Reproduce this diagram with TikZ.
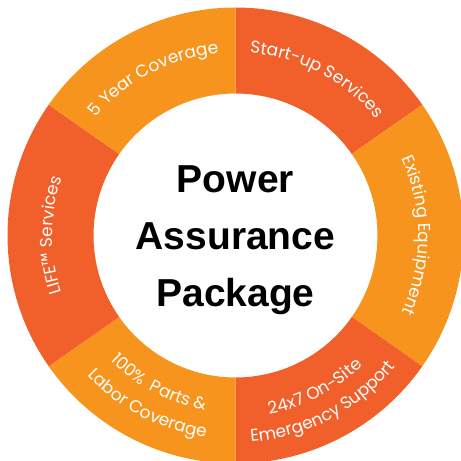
\documentclass[tikz,border=0pt]{standalone}
\usepackage{fontspec}
\setmainfont{Poppins}
\newfontfamily\ringfont{Poppins}
\newfontfamily\titlefont{Liberation Sans}
\usetikzlibrary{decorations.text}
\definecolor{darkorange}{RGB}{241,95,42}
\definecolor{lightorange}{RGB}{247,148,30}
\tikzset{
  segdark/.style={fill=darkorange},
  seglight/.style={fill=lightorange},
  ringtext/.style={decorate, decoration={text along path, text align=center,
      text={|\ringfont\fontsize{17}{20}\selectfont\color{white}|#1}}},
  titletext/.style={font=\titlefont\bfseries\fontsize{39}{45}\selectfont, anchor=base, inner sep=0pt, text=black},
}
\begin{document}
\begin{tikzpicture}[x=1pt,y=1pt]
\useasboundingbox (0,0) rectangle (461,461);
\clip (0,0) rectangle (461,461);
\begin{scope}[shift={(235.5,225.5)}]
  \coordinate (C) at (0,0);
  % segments
  \fill[segdark]  (90:228) arc[start angle=90, end angle=35, radius=228pt] -- (35:142) arc[start angle=35, end angle=90, radius=142pt] -- cycle;
  \fill[seglight] (35:228) arc[start angle=35, end angle=-35, radius=228pt] -- (-35:142) arc[start angle=-35, end angle=35, radius=142pt] -- cycle;
  \fill[segdark]  (-35:228) arc[start angle=-35, end angle=-90, radius=228pt] -- (-90:142) arc[start angle=-90, end angle=-35, radius=142pt] -- cycle;
  \fill[seglight] (-90:228) arc[start angle=-90, end angle=-145, radius=228pt] -- (-145:142) arc[start angle=-145, end angle=-90, radius=142pt] -- cycle;
  \fill[segdark]  (215:228) arc[start angle=215, end angle=145, radius=228pt] -- (145:142) arc[start angle=145, end angle=215, radius=142pt] -- cycle;
  \fill[seglight] (145:228) arc[start angle=145, end angle=90, radius=228pt] -- (90:142) arc[start angle=90, end angle=145, radius=142pt] -- cycle;
  % ring labels (clockwise, tops outward)
  \path[ringtext={Start-up Services}] (90:183) arc[start angle=90, end angle=35, radius=183pt];
  \path[ringtext={Existing Equipment}] (35:183) arc[start angle=35, end angle=-35, radius=183pt];
  \path[ringtext={LIFE™ Services}] (215:183) arc[start angle=215, end angle=145, radius=183pt];
  \path[ringtext={5 Year Coverage}] (145:183) arc[start angle=145, end angle=90, radius=183pt];
  % ring labels (counter-clockwise, tops inward)
  \path[ringtext={24x7 On-Site}] (-90:182) arc[start angle=-90, end angle=-35, radius=182pt];
  \path[ringtext={Emergency Support}] (-90:207) arc[start angle=-90, end angle=-35, radius=207pt];
  \path[ringtext={100{\%}{\ } Parts {\&}}] (-145:177) arc[start angle=-145, end angle=-90, radius=177pt];
  \path[ringtext={Labor Coverage}] (-145:204) arc[start angle=-145, end angle=-90, radius=204pt];
  % centre title
  \node[titletext] (t1) at (0,42.5) {Power};
  \node[titletext] (t2) at (0,-14.5) {Assurance};
  \node[titletext] (t3) at (0,-71.5) {Package};
\end{scope}
\end{tikzpicture}
\end{document}
